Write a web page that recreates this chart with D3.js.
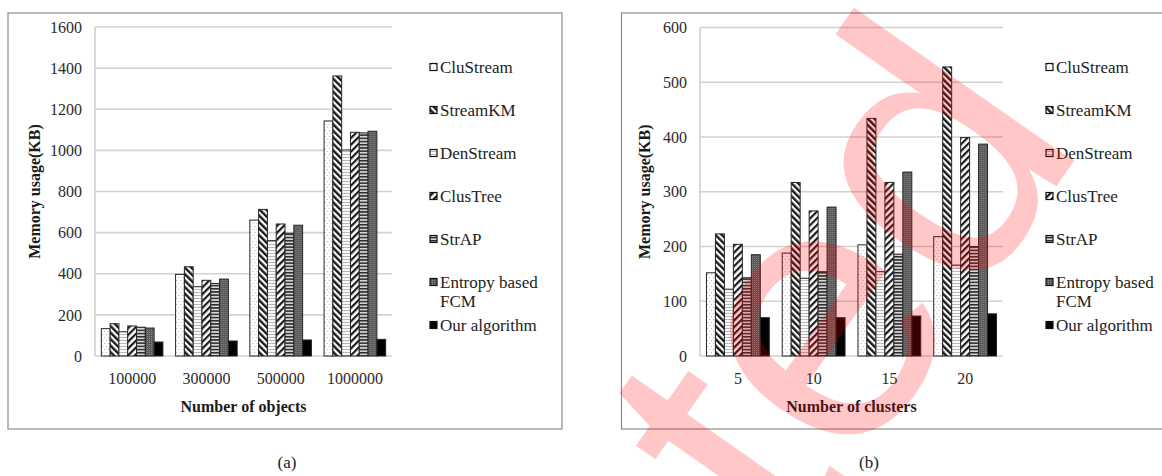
<!DOCTYPE html>
<html>
<head>
<meta charset="utf-8">
<script src="https://cdn.jsdelivr.net/npm/d3@7"></script>
<style>
  html, body { margin: 0; padding: 0; background: #fff; }
  svg { display: block; }
</style>
</head>
<body>
<svg id="chart" width="1162" height="476"></svg>
<script>
// ---------- data ----------
const seriesNames = ["CluStream", "StreamKM", "DenStream", "ClusTree", "StrAP", "Entropy based FCM", "Our algorithm"];
const legendLines = [["CluStream"], ["StreamKM"], ["DenStream"], ["ClusTree"], ["StrAP"], ["Entropy based", "FCM"], ["Our algorithm"]];

// panel (a): memory vs number of objects
const objectsCategories = ["100000", "300000", "500000", "1000000"];
const objCluStream = [133, 397, 661, 1143];
const objStreamKM  = [157, 434, 713, 1362];
const objDenStream = [118, 337, 561, 1002];
const objClusTree  = [146, 368, 642, 1088];
const objStrAP     = [140, 353, 597, 1085];
const objEntropy   = [136, 374, 636, 1093];
const objOurs      = [68, 73, 78, 81];
const objTicks = [0, 200, 400, 600, 800, 1000, 1200, 1400, 1600];

// panel (b): memory vs number of clusters
const clusterCategories = ["5", "10", "15", "20"];
const cluCluStream = [152, 188, 203, 218];
const cluStreamKM  = [223, 317, 434, 528];
const cluDenStream = [122, 142, 154, 166];
const cluClusTree  = [204, 265, 317, 399];
const cluStrAP     = [143, 154, 186, 200];
const cluEntropy   = [185, 272, 336, 387];
const cluOurs      = [70, 70, 73, 77];
const cluTicks = [0, 100, 200, 300, 400, 500, 600];

const yTitle = "Memory usage(KB)";
const watermarkText = "Retracted";

const SERIF = "'Liberation Serif', 'Times New Roman', serif";

// ---------- svg & patterns ----------
const svg = d3.select("#chart");
const defs = svg.append("defs");

function pat(id, w, h, transform) {
  const p = defs.append("pattern").attr("id", id)
    .attr("patternUnits", "userSpaceOnUse").attr("width", w).attr("height", h);
  if (transform) p.attr("patternTransform", transform);
  return p;
}
// CluStream: white with sparse light dots
let p = pat("p0", 4, 6);
p.append("rect").attr("width", 4).attr("height", 6).attr("fill", "#fff");
p.append("rect").attr("x", 1).attr("y", 1).attr("width", 1).attr("height", 1).attr("fill", "#b8b8b8");
p.append("rect").attr("x", 3).attr("y", 4).attr("width", 1).attr("height", 1).attr("fill", "#b8b8b8");
// StreamKM: "\" stripes
p = pat("p1", 4.6, 10, "rotate(-45)");
p.append("rect").attr("width", 4.6).attr("height", 10).attr("fill", "#fff");
p.append("rect").attr("width", 2.4).attr("height", 10).attr("fill", "#1a1a1a");
// DenStream: light zigzag
p = pat("p2", 4, 3);
p.append("rect").attr("width", 4).attr("height", 3).attr("fill", "#fafafa");
p.append("path").attr("d", "M0,2 L1,1 L2,2 L3,1 L4,2").attr("fill", "none").attr("stroke", "#a8a8a8").attr("stroke-width", 0.8);
// ClusTree: "/" stripes
p = pat("p3", 4.8, 10, "rotate(45)");
p.append("rect").attr("width", 4.8).attr("height", 10).attr("fill", "#fff");
p.append("rect").attr("width", 2.2).attr("height", 10).attr("fill", "#1a1a1a");
// StrAP: horizontal stripes
p = pat("p4", 4, 3.2);
p.append("rect").attr("width", 4).attr("height", 3.2).attr("fill", "#d4d4d4");
p.append("rect").attr("width", 4).attr("height", 1.5).attr("fill", "#2a2a2a");
// Entropy based FCM: dark grey with dots
p = pat("p5", 2, 2);
p.append("rect").attr("width", 2).attr("height", 2).attr("fill", "#595959");
p.append("rect").attr("width", 1).attr("height", 1).attr("fill", "#858585");
const fills = ["url(#p0)", "url(#p1)", "url(#p2)", "url(#p3)", "url(#p4)", "url(#p5)", "#000"];

// ---------- panel drawing ----------
function drawPanel(cfg) {
  const g = svg.append("g");
  g.append("rect").attr("x", cfg.frame[0]).attr("y", cfg.frame[1])
    .attr("width", cfg.frame[2]).attr("height", cfg.frame[3])
    .attr("fill", "none").attr("stroke", "#8c8c8c").attr("stroke-width", 1.2);

  const x0 = d3.scaleBand().domain(cfg.categories).range([cfg.left, cfg.right]).padding(0);
  const x1 = d3.scaleBand().domain(seriesNames).range([0, x0.bandwidth()])
    .paddingInner(0).paddingOuter(cfg.outerPad);
  const y = d3.scaleLinear().domain([0, cfg.yMax]).range([cfg.bottom, cfg.top]);

  g.append("g").selectAll("line").data(cfg.ticks).join("line")
    .attr("x1", cfg.left).attr("x2", cfg.right)
    .attr("y1", d => y(d)).attr("y2", d => y(d))
    .attr("stroke", "#d2d2d2").attr("stroke-width", 1.6);
  g.append("line").attr("x1", cfg.left).attr("x2", cfg.left)
    .attr("y1", y(cfg.yMax)).attr("y2", y(0))
    .attr("stroke", "#cfcfcf").attr("stroke-width", 1.6);

  const ya = g.append("g").attr("transform", `translate(${cfg.tickRight},0)`)
    .call(d3.axisLeft(y).tickValues(cfg.ticks).tickFormat(d3.format("d")).tickSize(0).tickPadding(0));
  ya.select(".domain").remove();
  ya.selectAll("text").style("font-family", SERIF).attr("font-size", 16).attr("fill", "#2b2b2b");

  const xa = g.append("g").attr("transform", `translate(0,${cfg.bottom})`)
    .call(d3.axisBottom(x0).tickSize(0).tickPadding(17));
  xa.select(".domain").remove();
  xa.selectAll("text").style("font-family", SERIF).attr("font-size", 16).attr("fill", "#2b2b2b");

  const groups = g.append("g").selectAll("g").data(cfg.categories).join("g")
    .attr("transform", d => `translate(${x0(d)},0)`);
  groups.selectAll("rect").data((c, ci) => seriesNames.map((s, si) => ({ si, v: cfg.values[si][ci] })))
    .join("rect")
    .attr("x", d => x1(seriesNames[d.si]))
    .attr("y", d => y(d.v))
    .attr("width", x1.bandwidth())
    .attr("height", d => y(0) - y(d.v))
    .attr("fill", d => fills[d.si])
    .attr("stroke", "#262626").attr("stroke-width", 1);

  g.append("text").attr("x", (cfg.left + cfg.right) / 2).attr("y", 412)
    .style("font-family", SERIF)
    .attr("text-anchor", "middle").attr("font-weight", "bold").attr("font-size", 16)
    .attr("fill", "#1a1a1a").text(cfg.xTitle);
  g.append("text").attr("transform", `translate(${cfg.yTitleX},${(cfg.top + cfg.bottom) / 2}) rotate(-90)`)
    .style("font-family", SERIF)
    .attr("text-anchor", "middle").attr("font-weight", "bold").attr("font-size", 16)
    .attr("fill", "#1a1a1a").text(yTitle);

  const ly = [67, 110, 153, 196, 239, 282, 325];
  const lg = g.append("g");
  legendLines.forEach((lines, i) => {
    lg.append("rect").attr("x", cfg.legendX).attr("y", ly[i] - 3.5).attr("width", 7).attr("height", 7)
      .attr("fill", fills[i]).attr("stroke", "#111").attr("stroke-width", 1.2);
    const t = lg.append("text").attr("x", cfg.legendX + 10).attr("y", ly[i] + 5.5)
      .style("font-family", SERIF).attr("font-size", 17).attr("fill", "#222");
    lines.forEach((ln, k) => {
      t.append("tspan").attr("x", cfg.legendX + 10).attr("dy", k === 0 ? 0 : 19).text(ln);
    });
  });

  g.append("text").attr("x", cfg.captionX).attr("y", 468).attr("text-anchor", "middle")
    .style("font-family", SERIF).attr("font-size", 17).attr("fill", "#222").text(cfg.caption);
}

drawPanel({
  frame: [8, 13, 554, 416],
  categories: objectsCategories,
  values: [objCluStream, objStreamKM, objDenStream, objClusTree, objStrAP, objEntropy, objOurs],
  ticks: objTicks, yMax: 1600,
  left: 95, right: 392, top: 27, bottom: 356, outerPad: 0.72,
  tickRight: 82, yTitleX: 40,
  xTitle: "Number of objects",
  legendX: 430, captionX: 287, caption: "(a)"
});

drawPanel({
  frame: [621.5, 13, 545, 416],
  categories: clusterCategories,
  values: [cluCluStream, cluStreamKM, cluDenStream, cluClusTree, cluStrAP, cluEntropy, cluOurs],
  ticks: cluTicks, yMax: 600,
  left: 700, right: 1003, top: 27.5, bottom: 356, outerPad: 0.72,
  tickRight: 687, yTitleX: 650,
  xTitle: "Number of clusters",
  legendX: 1046, captionX: 869, caption: "(b)"
});

// ---------- watermark overlay ----------
svg.append("g")
  .append("text")
  .attr("transform", "translate(1088,141) rotate(-55)")
  .attr("text-anchor", "end")
  .style("font-family", "'Liberation Sans', Arial, sans-serif")
  .attr("font-size", 370)
  .attr("fill", "#ff0000").attr("fill-opacity", 0.22)
  .text(watermarkText);
</script>
</body>
</html>
